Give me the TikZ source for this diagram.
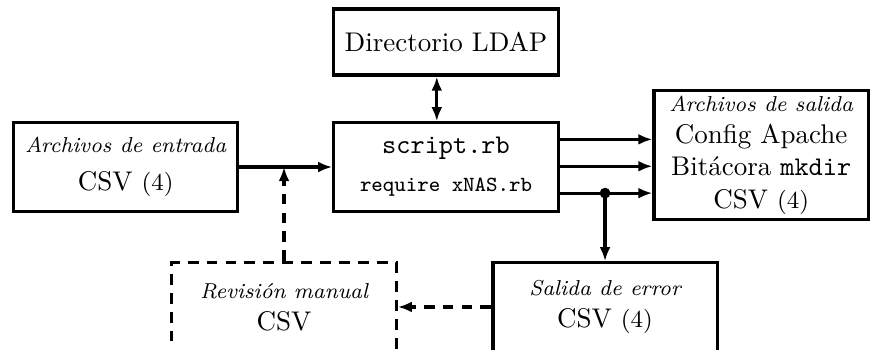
\documentclass[tikz,border=0pt]{standalone}
\usetikzlibrary{arrows.meta,positioning,calc}

\newcommand{\boxtitle}[1]{{\footnotesize\itshape #1}}
\newcommand{\nfiles}{{\small (4)}}

\begin{document}
\begin{tikzpicture}[
        >={Latex[length=5.2pt,width=4pt]},
        very thick,
        box/.style={draw, rectangle, minimum width=2.92cm, minimum height=1.15cm, align=center, inner sep=2pt},
        handdash/.style={dash pattern=on 4pt off 3pt}, % manual step
        manualbox/.style={box, handdash},
    ]
    \useasboundingbox (-5.806,2.174) rectangle (5.532,-2.369);
    \clip (-5.806,2.174) rectangle (5.532,-2.369);

    \node[box] (script) at (0,0) {\texttt{script.rb}\\[2pt] \footnotesize\texttt{require xNAS.rb}};
    \node[box, minimum height=0.86cm] (ldap) at (0,1.627) {Directorio LDAP};
    \node[box] (entrada) at (-4.17,0) {\boxtitle{Archivos de entrada}\\[2pt] CSV \nfiles};
    \node[box, minimum width=2.79cm, minimum height=1.61cm] (salida) at (4.103,0.156)
        {\boxtitle{Archivos de salida}\\ Config Apache\\ Bitácora \texttt{mkdir}\\ CSV \nfiles};
    \node[manualbox] (revision) at (-2.109,-1.822) {\boxtitle{Revisión manual}\\ CSV};
    \node[box] (error) at (2.07,-1.822) {\boxtitle{Salida de error}\\ CSV \nfiles};

    \draw[->] (entrada) -- (script);
    \draw[<->] ([xshift=-0.12cm]ldap.south) -- ([xshift=-0.12cm]script.north);
    \foreach \dy [count=\i] in {0.36,0.01,-0.34}{
        \coordinate (out\i) at ([yshift=\dy cm]script.east);
        \draw[->] (out\i) -- (out\i -| salida.west);
    }
    \fill (out3 -| error.north) circle (2pt);
    \draw[->] (out3 -| error.north) -- (error.north);
    \draw[->, handdash] (revision.north) -- (revision.north |- entrada.east);
    \draw[->, handdash] (error.west) -- (revision.east);
\end{tikzpicture}
\end{document}
